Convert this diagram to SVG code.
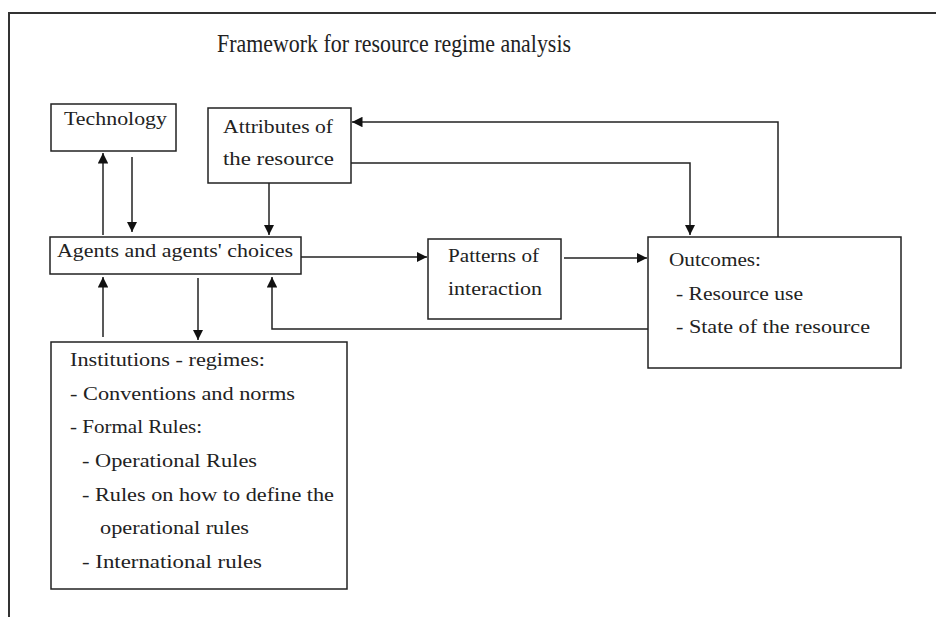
<svg xmlns="http://www.w3.org/2000/svg" width="936" height="617" viewBox="0 0 936 617">
<style>
.box{fill:#fff;stroke:#222;stroke-width:1.5}
.ln{fill:none;stroke:#222;stroke-width:1.5}
text{font-family:"Liberation Serif","DejaVu Serif",serif;font-size:19px;fill:#222}
.title{font-size:25px}
</style>
<defs>
<marker id="ah" viewBox="0 0 10 10" refX="10" refY="5" markerWidth="7" markerHeight="7" orient="auto" markerUnits="strokeWidth">
<path d="M0,0 L10,5 L0,10 z" fill="#111"/>
</marker>
</defs>
<rect width="936" height="617" fill="#fff"/>
<path d="M9,617 V13 H936" fill="none" stroke="#333" stroke-width="2"/>
<text class="title" x="217" y="52" textLength="354" lengthAdjust="spacingAndGlyphs">Framework for resource regime analysis</text>

<g id="connectors">
<path class="ln" d="M103,235 V153" marker-end="url(#ah)"/>
<path class="ln" d="M132,157 V232" marker-end="url(#ah)"/>
<path class="ln" d="M269,183 V235" marker-end="url(#ah)"/>
<path class="ln" d="M301,257 H427" marker-end="url(#ah)"/>
<path class="ln" d="M103,337 V277" marker-end="url(#ah)"/>
<path class="ln" d="M198,278 V340" marker-end="url(#ah)"/>
<path class="ln" d="M648,329 H272 V277" marker-end="url(#ah)"/>
<path class="ln" d="M564,258 H647" marker-end="url(#ah)"/>
<path class="ln" d="M778,237 V122 H352" marker-end="url(#ah)"/>
<path class="ln" d="M351,163 H690 V235" marker-end="url(#ah)"/>
</g>

<g id="technology">
<rect class="box" x="51" y="104" width="125" height="47"/>
<text x="64" y="125" textLength="103" lengthAdjust="spacingAndGlyphs">Technology</text>
</g>

<g id="attributes">
<rect class="box" x="208" y="108" width="143" height="75"/>
<text x="223" y="133" textLength="110" lengthAdjust="spacingAndGlyphs">Attributes of</text>
<text x="223" y="165" textLength="111" lengthAdjust="spacingAndGlyphs">the resource</text>
</g>

<g id="agents">
<rect class="box" x="50" y="237" width="251" height="37"/>
<text x="57" y="257" textLength="236" lengthAdjust="spacingAndGlyphs">Agents and agents' choices</text>
</g>

<g id="patterns">
<rect class="box" x="428" y="239" width="133" height="80"/>
<text x="448" y="262" textLength="91" lengthAdjust="spacingAndGlyphs">Patterns of</text>
<text x="448" y="295" textLength="94" lengthAdjust="spacingAndGlyphs">interaction</text>
</g>

<g id="outcomes">
<rect class="box" x="648" y="237" width="253" height="131"/>
<text x="669" y="266" textLength="92" lengthAdjust="spacingAndGlyphs">Outcomes:</text>
<text x="676" y="300" textLength="127" lengthAdjust="spacingAndGlyphs">- Resource use</text>
<text x="676" y="333" textLength="194" lengthAdjust="spacingAndGlyphs">- State of the resource</text>
</g>

<g id="institutions">
<rect class="box" x="51" y="342" width="296" height="247"/>
<text x="70" y="366" textLength="195" lengthAdjust="spacingAndGlyphs">Institutions - regimes:</text>
<text x="70" y="400" textLength="225" lengthAdjust="spacingAndGlyphs">- Conventions and norms</text>
<text x="70" y="433" textLength="132" lengthAdjust="spacingAndGlyphs">- Formal Rules:</text>
<text x="82" y="467" textLength="175" lengthAdjust="spacingAndGlyphs">- Operational Rules</text>
<text x="82" y="501" textLength="252" lengthAdjust="spacingAndGlyphs">- Rules on how to define the</text>
<text x="100" y="534" textLength="149" lengthAdjust="spacingAndGlyphs">operational rules</text>
<text x="82" y="568" textLength="180" lengthAdjust="spacingAndGlyphs">- International rules</text>
</g>
</svg>
